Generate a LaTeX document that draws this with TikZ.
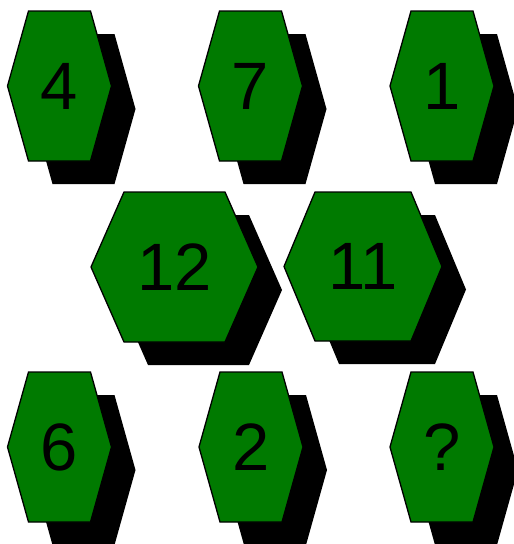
\documentclass[tikz,border=0pt]{standalone}
\usepackage{fontspec}
\setmainfont{Liberation Sans}
\definecolor{hexgreen}{RGB}{0,122,0}
\tikzset{
  hexface/.style={fill=hexgreen, draw=black, line width=1.3pt, line join=miter},
  hexshadow/.style={fill=black},
  lbl/.style={inner sep=0pt, font=\fontsize{67}{67}\selectfont, text=black}
}
% #1 cx, #2 cy, #3 width, #4 height, #5 inset, #6 label, #7 name
\newcommand\myhexa[7]{%
  \fill[hexshadow] ({#1-#3/2+24},{#2+23}) -- ({#1-#3/2+#5+24},{#2-#4/2+23}) -- ({#1+#3/2-#5+24},{#2-#4/2+23}) -- ({#1+#3/2+24},{#2+23}) -- ({#1+#3/2-#5+24},{#2+#4/2+23}) -- ({#1-#3/2+#5+24},{#2+#4/2+23}) -- cycle;
  \draw[hexface] ({#1-#3/2},{#2}) -- ({#1-#3/2+#5},{#2-#4/2}) -- ({#1+#3/2-#5},{#2-#4/2}) -- ({#1+#3/2},{#2}) -- ({#1+#3/2-#5},{#2+#4/2}) -- ({#1-#3/2+#5},{#2+#4/2}) -- cycle;
  \node[lbl] (#7) at (#1,#2) {#6};
}
\begin{document}
\begin{tikzpicture}[x=1pt,y=-1pt]
\useasboundingbox (0,0) rectangle (514,544);
\begin{scope}
\clip (0,0) rectangle (514,544);
\myhexa{59.5}{86}{104}{150}{21}{4}{n4}
\myhexa{250.5}{86}{104}{150}{21}{7}{n7}
\myhexa{442}{86}{104}{150}{21}{1}{n1}
\myhexa{174.5}{267}{167}{150}{33}{12}{n12}
\myhexa{363}{266.5}{158}{149}{31}{11}{n11}
\myhexa{59.5}{447}{104}{150}{21}{6}{n6}
\myhexa{251}{447}{104}{150}{21}{2}{n2}
\myhexa{442}{447}{104}{150}{21}{?}{nq}
\end{scope}
\end{tikzpicture}
\end{document}
